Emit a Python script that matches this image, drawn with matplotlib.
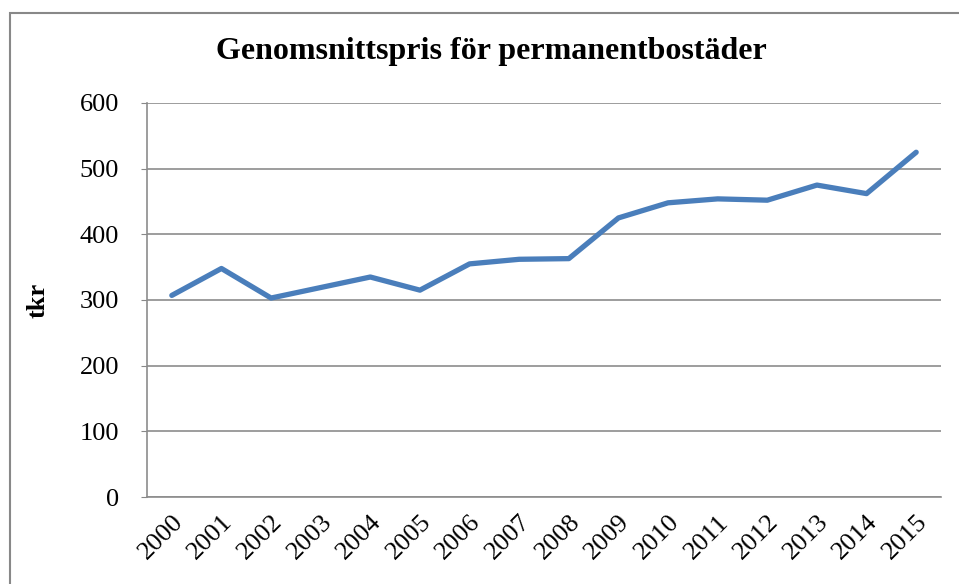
import matplotlib.pyplot as plt
from matplotlib.patches import Rectangle

# Genomsnittspris för permanentbostäder (tkr)
years = ['2000', '2001', '2002', '2003', '2004', '2005', '2006', '2007',
         '2008', '2009', '2010', '2011', '2012', '2013', '2014', '2015']
pris = [307, 348, 303, 319, 335, 315, 355, 362,
        363, 425, 448, 454, 452, 475, 462, 525]

plt.rcParams['font.family'] = ['Liberation Serif', 'DejaVu Serif']

fig = plt.figure(figsize=(9.59, 5.84), dpi=100)
ax = fig.add_axes([147 / 959, 1 - 497 / 584, 794 / 959, 394 / 584])

# ram runt hela diagrammet
fig.patches.append(Rectangle((10 / 959, -0.05), 1.0, 1 - 13 / 584 + 0.05,
                             transform=fig.transFigure, fill=False,
                             edgecolor='#888888', linewidth=1.5))

x = range(len(years))
ax.plot(x, pris, color='#4a7ebb', linewidth=3.8, solid_capstyle='round',
        solid_joinstyle='round', zorder=3)

ax.set_xlim(-0.5, len(years) - 0.5)
ax.set_ylim(0, 600)
ax.set_yticks(range(0, 601, 100))
ax.set_xticks(list(x))
ax.set_xticklabels(years, rotation=45, ha='right', rotation_mode='anchor')
ax.tick_params(axis='y', labelsize=19, length=4, color='#888888', pad=16)
ax.tick_params(axis='x', labelsize=19, length=0, pad=10)

ax.grid(axis='y', color='#8c8c8c', linewidth=1.2)
ax.set_axisbelow(True)
for s in ['top', 'right']:
    ax.spines[s].set_visible(False)
for s in ['left', 'bottom']:
    ax.spines[s].set_color('#8c8c8c')
    ax.spines[s].set_linewidth(1.2)

ax.set_ylabel('tkr', fontsize=19, fontweight='bold', labelpad=22)
fig.text(0.512, 1 - 52 / 584, 'Genomsnittspris för permanentbostäder',
         ha='center', va='center', fontsize=23, fontweight='bold')

plt.savefig('out.png', dpi=100)
